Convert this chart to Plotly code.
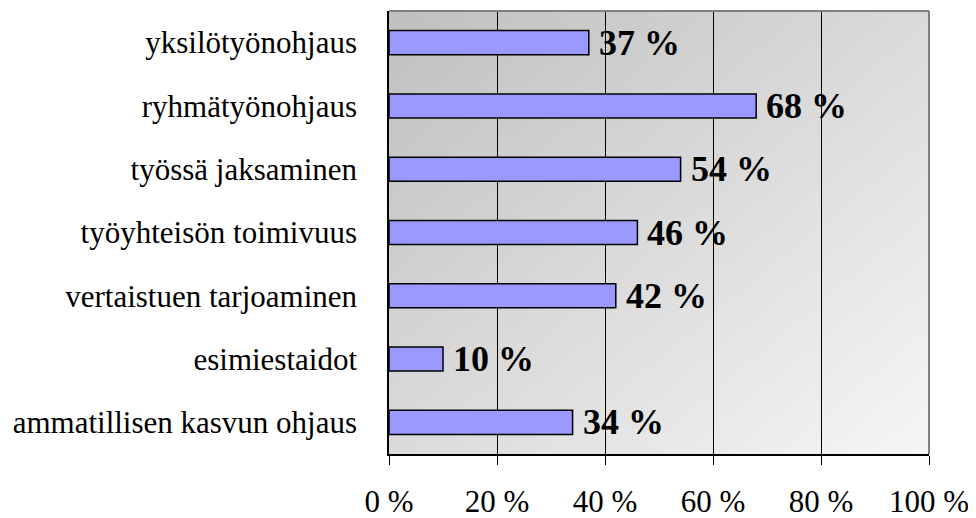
import urllib.parse

import plotly.graph_objects as go

categories = [
    "yksilötyönohjaus",
    "ryhmätyönohjaus",
    "työssä jaksaminen",
    "työyhteisön toimivuus",
    "vertaistuen tarjoaminen",
    "esimiestaidot",
    "ammatillisen kasvun ohjaus",
]
shares = [37, 68, 54, 46, 42, 10, 34]
tick_values = [0, 20, 40, 60, 80, 100]
tick_labels = ["0 %", "20 %", "40 %", "60 %", "80 %", "100 %"]

FONT = "Liberation Serif"

# diagonal grey gradient for the plot area
_svg = (
    '<svg xmlns="http://www.w3.org/2000/svg" width="100" height="100" preserveAspectRatio="none">'
    '<defs><linearGradient id="g" x1="0" y1="0" x2="1" y2="1">'
    '<stop offset="0" stop-color="#bfbfbf"/><stop offset="1" stop-color="#f6f6f6"/>'
    '</linearGradient></defs><rect width="100" height="100" fill="url(#g)"/></svg>'
)
bg_uri = "data:image/svg+xml;charset=utf-8," + urllib.parse.quote(_svg)

fig = go.Figure(
    go.Bar(
        x=shares,
        y=categories,
        orientation="h",
        marker=dict(color="#9999ff", line=dict(color="#000000", width=1.5)),
        width=0.38,
        hoverinfo="skip",
    )
)

for cat, val in zip(categories, shares):
    fig.add_annotation(
        x=val, y=cat, xref="x", yref="y",
        text=f"<b>{val} %</b>",
        showarrow=False, xanchor="left", xshift=8,
        font=dict(family=FONT, size=36, color="#000000"),
    )

# page body has an 8px margin, so the figure is a bit smaller than the window
fig.update_layout(
    width=968, height=510,
    margin=dict(l=381, r=47, t=3, b=64),
    paper_bgcolor="white",
    plot_bgcolor="rgba(0,0,0,0)",
    showlegend=False,
    font=dict(family=FONT, color="#000000"),
    images=[dict(
        source=bg_uri, xref="paper", yref="paper", x=0, y=1,
        sizex=1, sizey=1, sizing="stretch", layer="below",
        xanchor="left", yanchor="top",
    )],
    shapes=[
        dict(type="line", xref="paper", yref="paper", x0=0, x1=1, y0=1, y1=1,
             line=dict(color="#808080", width=2)),
        dict(type="line", xref="paper", yref="paper", x0=1, x1=1, y0=0, y1=1,
             line=dict(color="#808080", width=2)),
    ],
)
fig.update_xaxes(
    range=[0, 100], tickvals=tick_values, ticktext=tick_labels,
    showgrid=True, gridcolor="#000000", gridwidth=1,
    showline=True, linecolor="#000000", linewidth=1.5,
    ticks="outside", ticklen=9, tickcolor="#000000",
    tickfont=dict(family=FONT, size=31), ticklabelstandoff=10,
    zeroline=False, fixedrange=True, automargin=False,
)
fig.update_yaxes(
    autorange="reversed",
    showline=True, linecolor="#000000", linewidth=1.5,
    ticks="", ticklabelstandoff=24,
    tickfont=dict(family=FONT, size=31),
    showgrid=False, fixedrange=True, automargin=False,
)

fig.write_html("out.html")
